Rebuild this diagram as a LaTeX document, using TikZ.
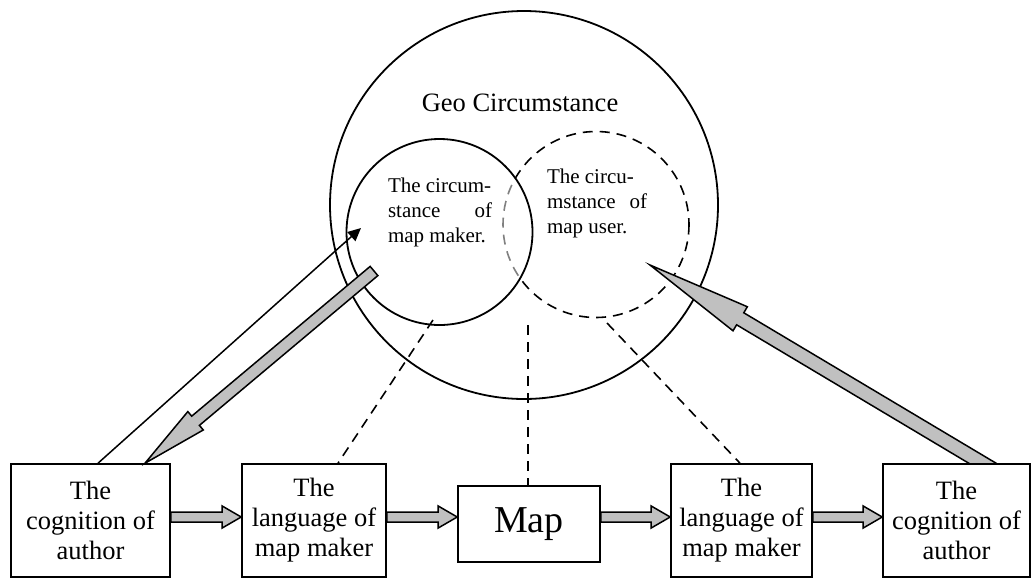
\documentclass[tikz,border=0pt]{standalone}
\usepackage{fontspec}
\setmainfont{Liberation Serif}
\usepackage{tikz}
\usetikzlibrary{arrows.meta,positioning,calc}

\definecolor{arrowgray}{RGB}{192,192,192}

\newcommand{\fatarrow}[5]{%
  \coordinate (fa-s) at (#1);
  \coordinate (fa-e) at (#2);
  \coordinate (fa-b) at ($(fa-e)!#5!(fa-s)$);
  \draw[fatline] ($(fa-s)!#3!90:(fa-e)$) -- ($(fa-b)!#3!-90:(fa-s)$) -- ($(fa-b)!#4!-90:(fa-s)$) -- (fa-e)
    -- ($(fa-b)!#4!90:(fa-s)$) -- ($(fa-b)!#3!90:(fa-s)$) -- ($(fa-s)!#3!-90:(fa-e)$) -- cycle;
}

\begin{document}
\begin{tikzpicture}[x=1pt, y=-1pt,
    box/.style={draw, fill=white, line width=1.6pt, minimum height=113pt, inner sep=0pt, align=center, font=\fontsize{26.5}{30}\selectfont},
    fatline/.style={draw, fill=arrowgray, line width=1.5pt, line join=miter},
    dashedline/.style={line width=1.6pt, dash pattern=on 10pt off 7pt},
    circtext/.style={align=left, inner sep=0pt, font=\fontsize{21}{25}\selectfont}]
    \useasboundingbox (0,0) rectangle (1033,582);

    \node[draw, circle, line width=1.8pt, minimum size=388pt, inner sep=0pt] (geo) at (524,205) {};
    \node[font=\fontsize{26.5}{30}\selectfont] (geolbl) at (520,103) {Geo Circumstance};

    \coordinate (user) at (596,224.5);
    \coordinate (maker) at (439.5,232);
    \draw[dashedline] (user) circle[radius=93];
    \begin{scope}
      \clip (maker) circle[radius=93];
      \draw[white, line width=4pt] (user) circle[radius=93];
      \draw[dashedline, black!50] (user) circle[radius=93];
    \end{scope}
    \draw[line width=1.8pt] (maker) circle[radius=93];

    \node[circtext] (makertxt) at (440,212) {The circum-\\\makebox[104pt]{stance\hfill of}\\map maker.};
    \node[circtext] (usertxt) at (597,203) {The circu-\\\makebox[100pt]{mstance\hfill of}\\map user.};

    \coordinate (cogBtail) at (992.3,469.1);
    \coordinate (usertip) at (650,265);
    \fatarrow{cogBtail}{usertip}{7pt}{14pt}{105pt}

    \node[box, minimum width=159pt] (cogA) at (90.5,520.5) {The\\cognition of\\author};
    \node[box, minimum width=144pt] (langA) at (314,520.5) {The\\language of\\map maker};
    \node[draw, fill=white, line width=1.6pt, minimum width=142pt, minimum height=76pt, inner sep=0pt, font=\fontsize{38}{40}\selectfont] (map) at (529,524) {Map};
    \node[box, minimum width=141pt] (langB) at (741.5,520.5) {The\\language of\\map maker};
    \node[box, minimum width=147pt] (cogB) at (956.5,520.5) {The\\cognition of\\author};

    \fatarrow{[yshift=3.5pt]cogA.east}{[yshift=3.5pt]langA.west}{5pt}{11pt}{19pt}
    \fatarrow{[yshift=3.5pt]langA.east}{[yshift=7pt]map.west}{5pt}{11pt}{19pt}
    \fatarrow{[yshift=7pt]map.east}{[yshift=3.5pt]langB.west}{5pt}{11pt}{19pt}
    \fatarrow{[yshift=3.5pt]langB.east}{[yshift=3.5pt]cogB.west}{5pt}{11pt}{19pt}

    \coordinate (thintip) at (361,228);
    \coordinate (makertail) at (374,271);
    \draw[line width=1.5pt, -{Triangle[length=13pt, width=12pt]}] ([xshift=7.5pt]cogA.north) -- (thintip);
    \fatarrow{makertail}{[xshift=54.5pt]cogA.north}{6pt}{12pt}{66pt}

    \coordinate (midtop) at (528,325);
    \coordinate (usertop) at (607,323);
    \draw[dashedline] (maker.center) ++(-6.5,88) coordinate (makerbot) -- ([xshift=24pt]langA.north);
    \draw[dashedline] (midtop) -- (midtop |- map.north);
    \draw[dashedline] (usertop) -- ([xshift=-1.5pt]langB.north);
\end{tikzpicture}
\end{document}
